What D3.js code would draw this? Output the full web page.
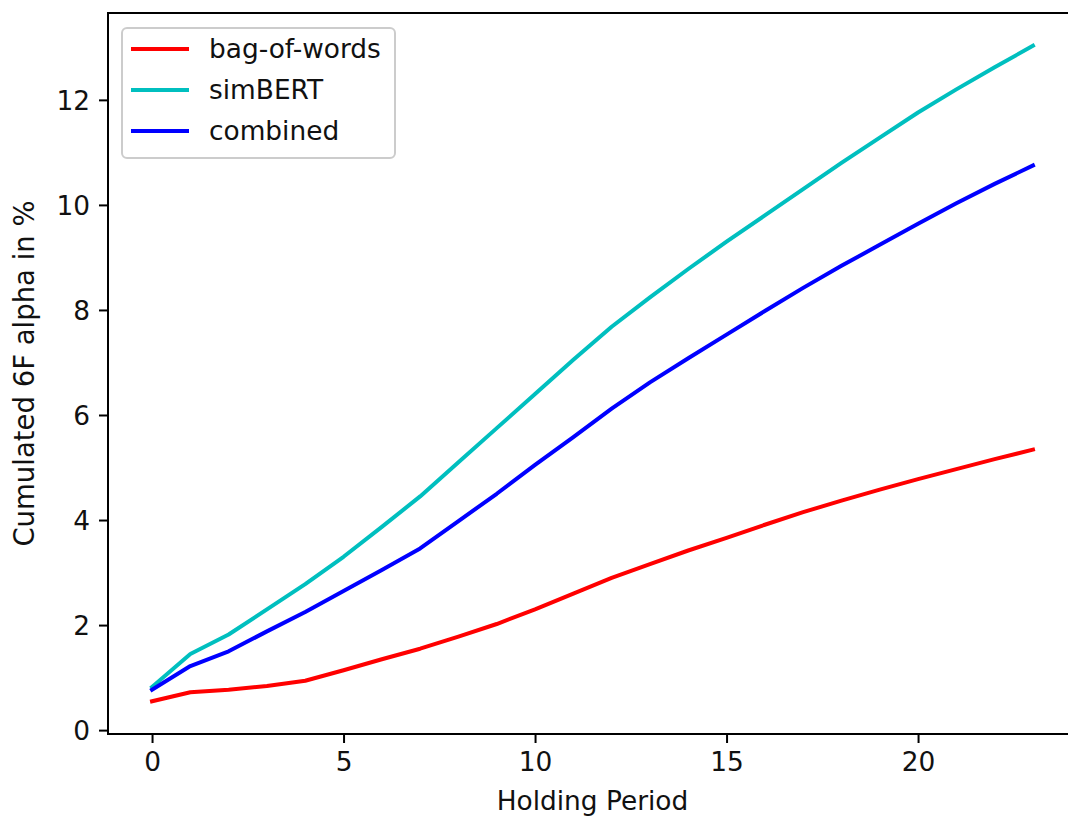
<!DOCTYPE html>
<html>
<head>
<meta charset="utf-8">
<script src="https://cdn.jsdelivr.net/npm/d3@7"></script>
<style>
  body { margin: 0; background: #fff; }
  svg text { font-family: "DejaVu Sans", sans-serif; fill: #111; }
</style>
</head>
<body>
<div id="chart"></div>
<script>
// ---------------------------- DATA ----------------------------//
const holding = d3.range(0, 24);
const bagOfWords = [0.55, 0.72, 0.77, 0.84, 0.94, 1.14, 1.35, 1.55, 1.78, 2.02, 2.3, 2.6,
                    2.9, 3.16, 3.42, 3.66, 3.91, 4.15, 4.37, 4.58, 4.78, 4.97, 5.16, 5.34];
const simBERT = [0.82, 1.45, 1.82, 2.3, 2.78, 3.3, 3.87, 4.45, 5.1, 5.75, 6.4, 7.05,
                 7.68, 8.24, 8.78, 9.3, 9.8, 10.3, 10.8, 11.28, 11.76, 12.2, 12.62, 13.03];
const combined = [0.77, 1.22, 1.5, 1.88, 2.25, 2.65, 3.05, 3.46, 3.98, 4.5, 5.05, 5.58,
                  6.12, 6.62, 7.08, 7.53, 7.98, 8.42, 8.84, 9.24, 9.64, 10.03, 10.4, 10.75];
const seriesNames = ["bag-of-words", "simBERT", "combined"];
const seriesColors = ["#ff0000", "#00bfbf", "#0000ff"];
const xTicks = [0, 5, 10, 15, 20];
const yTicks = [0, 2, 4, 6, 8, 10, 12];

const series = [bagOfWords, simBERT, combined].map(function (vals, i) {
  return { name: seriesNames[i], color: seriesColors[i],
           values: vals.map(function (v, j) { return { x: holding[j], y: v }; }) };
});

// ---------------------------- LAYOUT ----------------------------//
const width = 1068, height = 817;
const plotLeft = 108, plotRight = 1077, plotTop = 13, plotBottom = 734;
const fs = 26.4;

const svg = d3.select("#chart").append("svg")
  .attr("width", width)
  .attr("height", height);

// matplotlib-like 5% margins
const xExt = d3.extent(holding);
const xPad = (xExt[1] - xExt[0]) * 0.05;
const allY = bagOfWords.concat(simBERT, combined);
const yExt = d3.extent(allY);
const yPad = (yExt[1] - yExt[0]) * 0.05;

const x = d3.scaleLinear().domain([xExt[0] - xPad, xExt[1] + xPad]).range([plotLeft, plotRight]);
const y = d3.scaleLinear().domain([yExt[0] - yPad, yExt[1] + yPad]).range([plotBottom, plotTop]);

// ---------------------------- AXES ----------------------------//
const xAxis = d3.axisBottom(x).tickValues(xTicks).tickSize(9).tickPadding(9).tickFormat(d3.format("d"));
const yAxis = d3.axisLeft(y).tickValues(yTicks).tickSize(9).tickPadding(9).tickFormat(d3.format("d"));

const gx = svg.append("g").attr("transform", "translate(0," + plotBottom + ")").call(xAxis);
gx.select(".domain").remove();
gx.selectAll(".tick line").attr("stroke", "#000").attr("stroke-width", 2);
gx.selectAll(".tick text").style("font-size", fs + "px").attr("dy", "0.72em");

const gy = svg.append("g").attr("transform", "translate(" + plotLeft + ",0)").call(yAxis);
gy.select(".domain").remove();
gy.selectAll(".tick line").attr("stroke", "#000").attr("stroke-width", 2);
gy.selectAll(".tick text").style("font-size", fs + "px").attr("dy", "0.36em");

// ---------------------------- LINES ----------------------------//
const line = d3.line()
  .x(function (d) { return x(d.x); })
  .y(function (d) { return y(d.y); });

svg.append("g").selectAll("path")
  .data(series)
  .enter()
  .append("path")
  .attr("fill", "none")
  .attr("stroke", function (d) { return d.color; })
  .attr("stroke-width", 4)
  .attr("stroke-linejoin", "round")
  .attr("stroke-linecap", "square")
  .attr("d", function (d) { return line(d.values); });

// frame
svg.append("rect")
  .attr("x", plotLeft).attr("y", plotTop)
  .attr("width", plotRight - plotLeft).attr("height", plotBottom - plotTop)
  .attr("fill", "none")
  .attr("stroke", "#000")
  .attr("stroke-width", 2);

// axis labels
svg.append("text")
  .attr("x", (plotLeft + plotRight) / 2)
  .attr("y", 810)
  .attr("text-anchor", "middle")
  .style("font-size", fs + "px")
  .text("Holding Period");

svg.append("text")
  .attr("transform", "translate(34," + ((plotTop + plotBottom) / 2) + ") rotate(-90)")
  .attr("text-anchor", "middle")
  .style("font-size", "27.5px")
  .text("Cumulated 6F alpha in %");

// ---------------------------- LEGEND ----------------------------//
const legend = svg.append("g");
legend.append("rect")
  .attr("x", 122).attr("y", 28)
  .attr("width", 273).attr("height", 130)
  .attr("rx", 5)
  .attr("fill", "#fff")
  .attr("fill-opacity", 0.8)
  .attr("stroke", "#cccccc")
  .attr("stroke-width", 2);

const rows = legend.selectAll("g.row")
  .data(series)
  .enter()
  .append("g")
  .attr("class", "row")
  .attr("transform", function (d, i) { return "translate(0," + (49 + i * 41) + ")"; });

rows.append("line")
  .attr("x1", 131).attr("x2", 189)
  .attr("stroke", function (d) { return d.color; })
  .attr("stroke-width", 4);

rows.append("text")
  .attr("x", 209)
  .attr("dy", "0.35em")
  .style("font-size", fs + "px")
  .text(function (d) { return d.name; });
</script>
</body>
</html>
